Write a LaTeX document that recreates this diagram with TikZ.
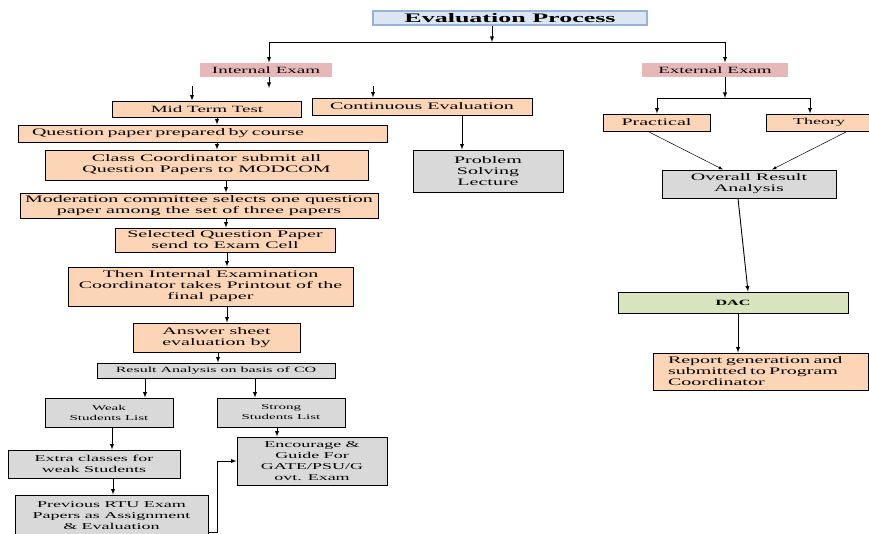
\documentclass[tikz,border=0pt]{standalone}
\usepackage{fontspec}
\setmainfont{Liberation Serif}[FakeStretch=2.0]
\usepackage{tikz}
\usetikzlibrary{arrows}
\definecolor{peach}{RGB}{251,213,181}
\definecolor{lgrey}{RGB}{217,217,217}
\definecolor{pinkbox}{RGB}{230,185,184}
\definecolor{greenbox}{RGB}{215,228,189}
\definecolor{titlefill}{RGB}{220,230,242}
\definecolor{titleline}{RGB}{149,179,215}

\begin{document}
\begin{tikzpicture}
	[x=1pt,y=-1pt,
	every node/.style={rectangle,draw=black,line width=0.9pt,inner sep=1pt,align=center,font=\fontsize{10}{11}\selectfont},
	peachbox/.style={fill=peach},
	greybox/.style={fill=lgrey},
	examhead/.style={fill=pinkbox,draw=none,font=\fontsize{9.5}{11}\selectfont},
	arr/.style={-latex,line width=0.9pt},
	thinarr/.style={-latex,line width=0.5pt}]
	\useasboundingbox (0,0) rectangle (869,534);
	\node[fill=titlefill,draw=titleline,line width=1.3pt,minimum width=274,minimum height=14,font=\fontsize{13}{14}\selectfont\bfseries] (ev) at (510,18) {Evaluation Process};
	\node[examhead,minimum width=132,minimum height=14] (ie) at (266,70) {Internal Exam};
	\node[examhead,minimum width=146,minimum height=14] (ee) at (715,70) {External Exam};
	\node[peachbox,minimum width=189,minimum height=16,font=\fontsize{9.5}{11}\selectfont] (mt) at (207,109) {Mid Term Test};
	\node[peachbox,minimum width=220,minimum height=17] (ce) at (422,106.5) {Continuous Evaluation};
	\node[peachbox,text width=341,inner xsep=14,minimum height=17,align=left] (qp) at (202.5,133.5) {Question paper prepared by course};
	\node[peachbox,minimum width=323,minimum height=30] (cc) at (206.5,165) {Class Coordinator submit all\\Question Papers to MODCOM};
	\node[greybox,minimum width=150,minimum height=42] (pl) at (488,171) {Problem\\Solving\\Lecture};
	\node[peachbox,minimum width=358,minimum height=25] (mc) at (199,205.5) {Moderation committee selects one question\\paper among the set of three papers};
	\node[peachbox,minimum width=220,minimum height=24,inner ysep=2pt] (sq) at (225,240) {Selected Question Paper\\send to Exam Cell};
	\node[peachbox,minimum width=285,minimum height=39] (ic) at (210.5,286.5) {Then Internal Examination\\Coordinator takes Printout of the\\final paper};
	\node[peachbox,minimum width=167,minimum height=29] (as) at (216.5,337.5) {Answer sheet\\evaluation by};
	\node[greybox,minimum width=238,minimum height=15,font=\fontsize{8}{9}\selectfont] (ra) at (216,370.5) {Result Analysis on basis of CO};
	\node[greybox,minimum width=128,minimum height=29,font=\fontsize{7.5}{10}\selectfont] (ws) at (109,412.5) {Weak\\Students List};
	\node[greybox,minimum width=128,minimum height=29,font=\fontsize{7.5}{10}\selectfont] (ss) at (281,412.5) {Strong\\Students List};
	\node[greybox,minimum width=172,minimum height=28,font=\fontsize{9}{11}\selectfont] (ec) at (94,464) {Extra classes for\\weak Students};
	\node[greybox,minimum width=193,minimum height=41,font=\fontsize{9}{11}\selectfont] (pr) at (111.5,515.5) {Previous RTU Exam\\Papers as Assignment\\\& Evaluation};
	\node[greybox,minimum width=150,minimum height=48,font=\fontsize{9}{11}\selectfont] (eg) at (312,461) {Encourage \&\\Guide For\\GATE/PSU/G\\ovt. Exam};
	\node[peachbox,minimum width=107,minimum height=17] (pc) at (656.5,122.5) {Practical};
	\node[peachbox,minimum width=106,minimum height=17,font=\fontsize{9}{11}\selectfont] (th) at (819,122.5) {Theory};
	\node[greybox,minimum width=174,minimum height=28] (oa) at (749,184) {Overall Result\\Analysis};
	\node[fill=greenbox,minimum width=230,minimum height=21,font=\fontsize{8}{10}\selectfont\bfseries] (da) at (733,302.5) {DAC};
	\node[peachbox,text width=185,inner xsep=15,minimum height=37,align=left] (rg) at (760.5,371.5) {Report generation and\\submitted to Program\\Coordinator};
	
	\coordinate (t0) at (492,42);
	\coordinate (tl) at (269,42);
	\coordinate (tr) at (725,42);
	\coordinate (i0) at (269,88);
	\coordinate (m0) at (192,86);
	\coordinate (c0) at (373,86);
	\coordinate (e0) at (725,98);
	\coordinate (el) at (657,98);
	\coordinate (er) at (810,98);
	
	\draw[arr] (ev.south -| t0) -- (t0);
	\draw[line width=0.9pt] (tl) -- (tr);
	\draw[arr] (tl) -- (ie.north -| tl);
	\draw[arr] (tr) -- (ee.north -| tr);
	\draw[arr] (ie.south -| i0) -- (i0);
	\draw[arr] (m0) -- (mt.north -| m0);
	\draw[arr] (c0) -- (ce.north -| c0);
	\draw[arr] (ee.south -| e0) -- (e0);
	\draw[line width=0.9pt] (el) -- (er);
	\draw[arr] (el) -- (pc.north -| el);
	\draw[arr] (er) -- (th.north -| er);
	
	\foreach \from/\to/\x in 
	{mt/qp/217, qp/cc/217, cc/mc/226, mc/sq/226, sq/ic/227, ic/as/227, as/ra/218, ra/ws/145, ra/ss/255, ws/ec/112, ec/pr/113, ss/eg/277, ce/pl/462, da/rg/738}
	\draw[arr] (\from.south -| \x,0) -- (\to.north -| \x,0);
	
	\draw[thinarr] ([xshift=-8.5pt]pc.south) -- ([xshift=-26pt]oa.north);
	\draw[thinarr] ([xshift=28pt]th.south) -- ([xshift=23pt]oa.north);
	\draw[arr] ([xshift=-11pt]oa.south) -- ([xshift=15pt]da.north);
	\draw[arr] ([yshift=4pt]pr.south east) -- ++(9,0) |- (eg.west);
\end{tikzpicture}
\end{document}
